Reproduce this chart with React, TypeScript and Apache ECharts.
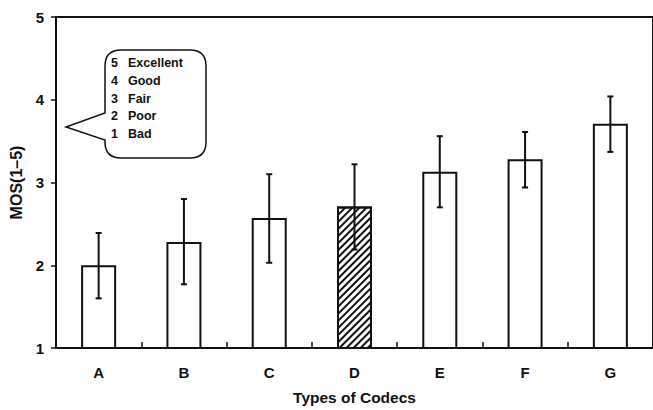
import React, { useEffect, useRef } from "react";
import * as echarts from "echarts";

const categories = ["A", "B", "C", "D", "E", "F", "G"];
const mosMeans = [2.0, 2.28, 2.57, 2.71, 3.13, 3.28, 3.71];
const errLow = [1.6, 1.77, 2.03, 2.19, 2.7, 2.94, 3.37];
const errHigh = [2.39, 2.8, 3.1, 3.22, 3.56, 3.61, 4.04];
const yTicks = [1, 2, 3, 4, 5];
const scaleNums = ["5", "4", "3", "2", "1"];
const scaleWords = ["Excellent", "Good", "Fair", "Poor", "Bad"];

const calloutPath =
  "M121,50 L190,50 Q206,50 206,66 L206,142 Q206,158 190,158 L121,158 Q105,158 105,142 L105,140 L66,127 L105,113 L105,66 Q105,50 121,50 Z";

let registered = false;

export default function App() {
  const ref = useRef<HTMLDivElement>(null);
  useEffect(() => {
    document.body.style.margin = "0";
    if (!registered) {
      echarts.graphic.registerShape("callout", echarts.graphic.extendPath(calloutPath, {}) as any);
      registered = true;
    }
    const chart = echarts.init(ref.current!, undefined, { renderer: "svg" });
    const font = "Liberation Sans";
    const graphics: any[] = [
      {
        type: "callout",
        x: 0,
        y: 0,
        z: 10,
        style: { fill: "#fff", stroke: "#111", lineWidth: 1.5 },
      },
    ];
    scaleNums.forEach((n, i) => {
      graphics.push({
        type: "text",
        x: 111,
        y: 63 + i * 17.8,
        z: 11,
        style: {
          text: n,
          fontFamily: font,
          fontSize: 12.5,
          fontWeight: "bold",
          fill: "#111",
          verticalAlign: "middle",
        },
      });
      graphics.push({
        type: "text",
        x: 128,
        y: 63 + i * 17.8,
        z: 11,
        style: {
          text: scaleWords[i],
          fontFamily: font,
          fontSize: 12.5,
          fontWeight: "bold",
          fill: "#111",
          verticalAlign: "middle",
        },
      });
    });

    const barData = mosMeans.map((v, i) =>
      i === 3
        ? {
            value: v,
            itemStyle: {
              color: "#fff",
              decal: {
                symbol: "rect",
                symbolSize: 1,
                dashArrayX: [1, 0],
                dashArrayY: [1.3, 2.1],
                rotation: -Math.PI / 4,
                color: "#111",
              },
            },
          }
        : v
    );

    chart.setOption({
      animation: false,
      backgroundColor: "#fff",
      textStyle: { fontFamily: font },
      grid: {
        left: 56,
        top: 17,
        width: 602,
        height: 334,
        show: true,
        borderColor: "#111",
        borderWidth: 2,
        backgroundColor: "transparent",
      },
      xAxis: {
        type: "category",
        data: categories,
        name: "Types of Codecs",
        nameLocation: "middle",
        nameGap: 41,
        nameTextStyle: { fontFamily: font, fontSize: 15.5, fontWeight: "bold", color: "#111" },
        axisLine: { lineStyle: { color: "#111", width: 2 } },
        axisTick: { show: true, inside: true, length: 6, lineStyle: { color: "#111", width: 1.5 } },
        axisLabel: { fontFamily: font, fontSize: 15, fontWeight: "bold", color: "#111", margin: 17 },
      },
      yAxis: {
        type: "value",
        min: yTicks[0],
        max: yTicks[yTicks.length - 1],
        interval: 1,
        name: "MOS(1–5)",
        nameLocation: "middle",
        nameGap: 28,
        nameTextStyle: { fontFamily: font, fontSize: 16, fontWeight: "bold", color: "#111" },
        axisLine: { show: true, lineStyle: { color: "#111", width: 2 } },
        axisTick: { show: true, length: 5, lineStyle: { color: "#111", width: 1.5 } },
        axisLabel: { fontFamily: font, fontSize: 15, fontWeight: "bold", color: "#111", margin: 12 },
        splitLine: { show: false },
      },
      graphic: graphics,
      series: [
        {
          type: "bar",
          data: barData,
          barWidth: 35,
          itemStyle: { color: "#fff", borderColor: "#111", borderWidth: 2 },
          z: 2,
        },
        {
          type: "custom",
          z: 5,
          data: categories.map((_, i) => [i, errLow[i], errHigh[i]]),
          renderItem: (params: any, api: any) => {
            const x = api.value(0);
            const lo = api.coord([x, api.value(1)]);
            const hi = api.coord([x, api.value(2)]);
            const hw = 3;
            const style = { stroke: "#111", lineWidth: 2 };
            return {
              type: "group",
              children: [
                { type: "line", shape: { x1: lo[0], y1: lo[1], x2: hi[0], y2: hi[1] }, style },
                { type: "line", shape: { x1: lo[0] - hw, y1: lo[1], x2: lo[0] + hw, y2: lo[1] }, style },
                { type: "line", shape: { x1: hi[0] - hw, y1: hi[1], x2: hi[0] + hw, y2: hi[1] }, style },
              ],
            };
          },
        },
      ],
    });
    return () => chart.dispose();
  }, []);
  return <div ref={ref} style={{ width: 653, height: 410 }} />;
}
